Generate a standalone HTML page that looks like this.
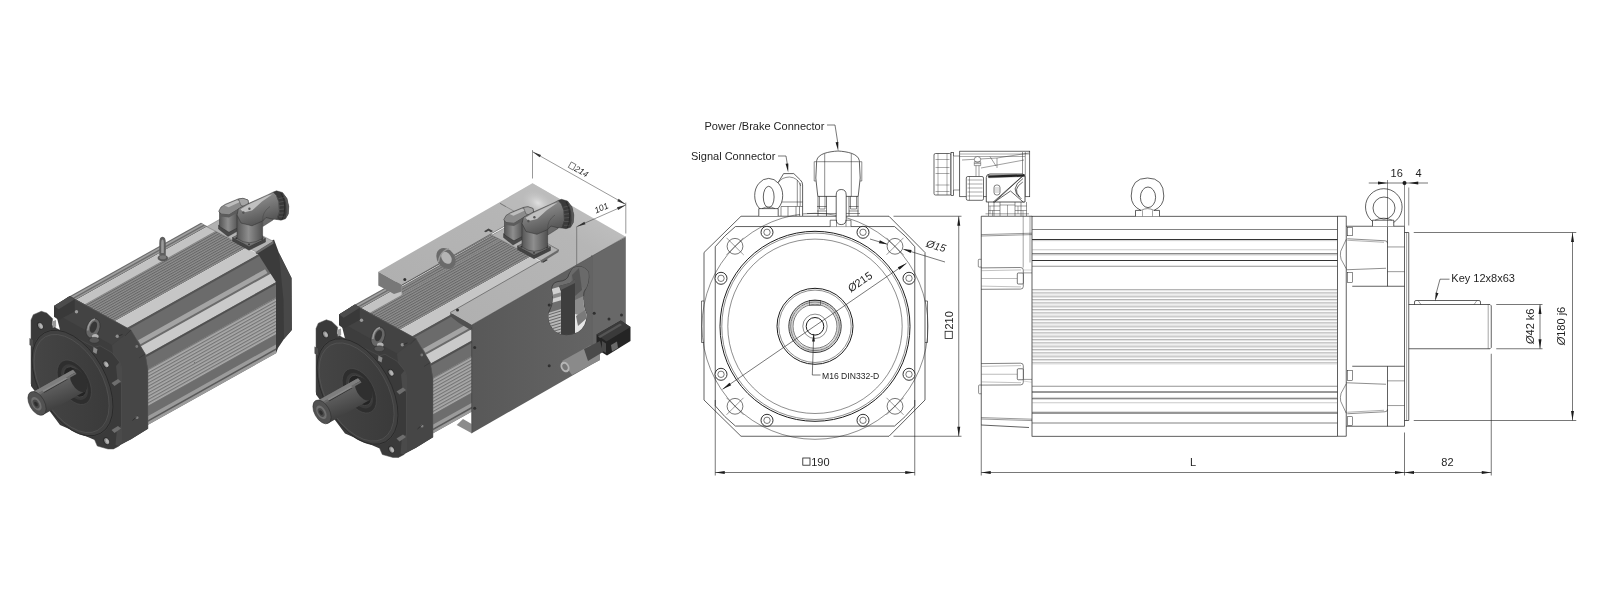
<!DOCTYPE html>
<html><head><meta charset="utf-8"><title>Motor dimensions</title>
<style>
html,body{margin:0;padding:0;background:#fff;}
body{width:1620px;height:600px;overflow:hidden;font-family:"Liberation Sans",sans-serif;}
svg{display:block;position:absolute;left:0;top:0;filter:grayscale(1);}
svg text{font-family:"Liberation Sans",sans-serif;fill:#1f1f1f;}
</style></head><body>
<svg width="1620" height="600" viewBox="0 0 1620 600">
<defs>
<pattern id="ribT" width="12" height="2.3" patternUnits="userSpaceOnUse" patternTransform="rotate(-29.25)"><rect width="12" height="2.3" fill="#8e8e8e"/><rect width="12" height="1.0" fill="#666"/></pattern>
<pattern id="ribS" width="12" height="2.9" patternUnits="userSpaceOnUse" patternTransform="rotate(-29.25)"><rect width="12" height="2.9" fill="#a9a9a9"/><rect width="12" height="1.15" fill="#747474"/></pattern>
<linearGradient id="shaftG" x1="0" y1="0" x2="0.45" y2="1"><stop offset="0" stop-color="#7c7c7c"/><stop offset="0.4" stop-color="#626262"/><stop offset="1" stop-color="#383838"/></linearGradient>
<linearGradient id="cylG" x1="0" y1="0" x2="1" y2="0"><stop offset="0" stop-color="#565656"/><stop offset="0.45" stop-color="#8e8e8e"/><stop offset="1" stop-color="#505050"/></linearGradient>
<linearGradient id="elbG" x1="0" y1="0" x2="0.4" y2="1"><stop offset="0" stop-color="#a0a0a0"/><stop offset="0.5" stop-color="#7c7c7c"/><stop offset="1" stop-color="#545454"/></linearGradient>
<linearGradient id="diskG" x1="0" y1="0" x2="1" y2="1"><stop offset="0" stop-color="#474747"/><stop offset="1" stop-color="#383838"/></linearGradient>
<linearGradient id="boxS" x1="0" y1="0" x2="1" y2="0"><stop offset="0" stop-color="#585858"/><stop offset="1" stop-color="#646464"/></linearGradient>
<linearGradient id="boxT" x1="0" y1="1" x2="1" y2="0"><stop offset="0" stop-color="#aeaeae"/><stop offset="0.7" stop-color="#b6b6b6"/><stop offset="1" stop-color="#c8c8c8"/></linearGradient>
<radialGradient id="topHL" cx="0.5" cy="0.5" r="0.5"><stop offset="0" stop-color="#e2e2e2" stop-opacity="0.95"/><stop offset="1" stop-color="#c4c4c4" stop-opacity="0"/></radialGradient>
</defs>
<g id="frontview">
<polygon points="741.00,216.25 889.00,216.25 925.00,252.50 925.00,400.00 889.00,436.25 741.00,436.25 704.00,400.00 704.00,252.50" fill="none" stroke="#1c1c1c" stroke-width="0.7" />
<path d="M704,301 H701.5 V342.5 H704" fill="none" stroke="#1c1c1c" stroke-width="0.6" />
<path d="M925,301 H927.5 V342.5 H925" fill="none" stroke="#1c1c1c" stroke-width="0.6" />
<path d="M715.25,246.73 L715.25,405.87 A127.6,127.6 0 0 0 735.43,426.05 L894.57,426.05 A127.6,127.6 0 0 0 914.75,405.87 L914.75,246.73 A127.6,127.6 0 0 0 894.57,226.55 L735.43,226.55 A127.6,127.6 0 0 0 715.25,246.73 Z" fill="none" stroke="#1c1c1c" stroke-width="0.7" />
<circle cx="815.00" cy="326.30" r="113.00" fill="none" stroke="#1c1c1c" stroke-width="0.5"/>
<circle cx="815.00" cy="326.30" r="95.00" fill="none" stroke="#1c1c1c" stroke-width="1.0"/>
<circle cx="815.00" cy="326.30" r="93.20" fill="none" stroke="#1c1c1c" stroke-width="0.5"/>
<circle cx="815.00" cy="326.30" r="87.20" fill="none" stroke="#1c1c1c" stroke-width="0.5"/>
<circle cx="815.00" cy="326.30" r="38.00" fill="none" stroke="#1c1c1c" stroke-width="1.0"/>
<circle cx="815.00" cy="326.30" r="36.20" fill="none" stroke="#1c1c1c" stroke-width="0.5"/>
<circle cx="815.00" cy="326.30" r="26.20" fill="none" stroke="#1c1c1c" stroke-width="0.9"/>
<circle cx="815.00" cy="326.30" r="24.30" fill="none" stroke="#1c1c1c" stroke-width="0.6"/>
<circle cx="815.00" cy="326.30" r="22.00" fill="none" stroke="#1c1c1c" stroke-width="0.6"/>
<circle cx="815.00" cy="326.30" r="12.20" fill="none" stroke="#1c1c1c" stroke-width="0.5"/>
<circle cx="815.00" cy="326.30" r="8.80" fill="none" stroke="#1c1c1c" stroke-width="1.0"/>
<circle cx="815.00" cy="326.30" r="23.20" fill="none" stroke="#666" stroke-width="0.35"/>
<circle cx="815.00" cy="326.30" r="25.20" fill="none" stroke="#666" stroke-width="0.35"/>
<rect x="809.40" y="300.30" width="11.20" height="5.20" rx="0" fill="none" stroke="#1c1c1c" stroke-width="0.5"/>
<circle cx="735.00" cy="246.30" r="7.90" fill="none" stroke="#1c1c1c" stroke-width="0.6"/>
<line x1="726.50" y1="237.80" x2="743.50" y2="254.80" stroke="#1c1c1c" stroke-width="0.45" />
<line x1="726.50" y1="254.80" x2="743.50" y2="237.80" stroke="#1c1c1c" stroke-width="0.45" />
<circle cx="735.00" cy="406.30" r="7.90" fill="none" stroke="#1c1c1c" stroke-width="0.6"/>
<line x1="726.50" y1="397.80" x2="743.50" y2="414.80" stroke="#1c1c1c" stroke-width="0.45" />
<line x1="726.50" y1="414.80" x2="743.50" y2="397.80" stroke="#1c1c1c" stroke-width="0.45" />
<circle cx="895.00" cy="246.30" r="7.90" fill="none" stroke="#1c1c1c" stroke-width="0.6"/>
<line x1="886.50" y1="237.80" x2="903.50" y2="254.80" stroke="#1c1c1c" stroke-width="0.45" />
<line x1="886.50" y1="254.80" x2="903.50" y2="237.80" stroke="#1c1c1c" stroke-width="0.45" />
<circle cx="895.00" cy="406.30" r="7.90" fill="none" stroke="#1c1c1c" stroke-width="0.6"/>
<line x1="886.50" y1="397.80" x2="903.50" y2="414.80" stroke="#1c1c1c" stroke-width="0.45" />
<line x1="886.50" y1="414.80" x2="903.50" y2="397.80" stroke="#1c1c1c" stroke-width="0.45" />
<circle cx="721.00" cy="278.30" r="6.00" fill="#fff" stroke="#1c1c1c" stroke-width="0.9"/>
<circle cx="721.00" cy="278.30" r="3.20" fill="none" stroke="#1c1c1c" stroke-width="0.6"/>
<circle cx="721.00" cy="374.30" r="6.00" fill="#fff" stroke="#1c1c1c" stroke-width="0.9"/>
<circle cx="721.00" cy="374.30" r="3.20" fill="none" stroke="#1c1c1c" stroke-width="0.6"/>
<circle cx="909.00" cy="278.30" r="6.00" fill="#fff" stroke="#1c1c1c" stroke-width="0.9"/>
<circle cx="909.00" cy="278.30" r="3.20" fill="none" stroke="#1c1c1c" stroke-width="0.6"/>
<circle cx="909.00" cy="374.30" r="6.00" fill="#fff" stroke="#1c1c1c" stroke-width="0.9"/>
<circle cx="909.00" cy="374.30" r="3.20" fill="none" stroke="#1c1c1c" stroke-width="0.6"/>
<circle cx="767.00" cy="232.30" r="6.00" fill="#fff" stroke="#1c1c1c" stroke-width="0.9"/>
<circle cx="767.00" cy="232.30" r="3.20" fill="none" stroke="#1c1c1c" stroke-width="0.6"/>
<circle cx="767.00" cy="420.30" r="6.00" fill="#fff" stroke="#1c1c1c" stroke-width="0.9"/>
<circle cx="767.00" cy="420.30" r="3.20" fill="none" stroke="#1c1c1c" stroke-width="0.6"/>
<circle cx="863.00" cy="232.30" r="6.00" fill="#fff" stroke="#1c1c1c" stroke-width="0.9"/>
<circle cx="863.00" cy="232.30" r="3.20" fill="none" stroke="#1c1c1c" stroke-width="0.6"/>
<circle cx="863.00" cy="420.30" r="6.00" fill="#fff" stroke="#1c1c1c" stroke-width="0.9"/>
<circle cx="863.00" cy="420.30" r="3.20" fill="none" stroke="#1c1c1c" stroke-width="0.6"/>
<line x1="722.50" y1="389.30" x2="906.50" y2="263.20" stroke="#1c1c1c" stroke-width="0.6" />
<polygon points="906.50,263.20 899.51,269.81 897.82,267.33" fill="#1c1c1c" stroke="none" stroke-width="0" />
<polygon points="722.50,389.30 729.49,382.69 731.18,385.17" fill="#1c1c1c" stroke="none" stroke-width="0" />
<text x="851.00" y="292.50" font-size="11" text-anchor="start" transform="rotate(-34.42385795523176 851.00 292.50)" ><tspan font-style="italic">Ø</tspan>215</text>
<line x1="870.00" y1="239.00" x2="887.00" y2="244.20" stroke="#1c1c1c" stroke-width="0.6" />
<line x1="903.50" y1="249.30" x2="945.00" y2="262.00" stroke="#1c1c1c" stroke-width="0.6" />
<polygon points="887.50,244.30 878.90,243.34 879.84,240.28" fill="#1c1c1c" stroke="none" stroke-width="0" />
<polygon points="903.00,249.10 911.60,250.06 910.66,253.12" fill="#1c1c1c" stroke="none" stroke-width="0" />
<text x="925.50" y="246.50" font-size="10.5" text-anchor="start" transform="rotate(17.049030972109822 925.50 246.50)" font-style="italic">Ø15</text>
<path d="M820.5,375 H812.3 L813.7,334" fill="none" stroke="#1c1c1c" stroke-width="0.6" />
<polygon points="813.75,333.50 814.87,341.54 812.07,341.45" fill="#1c1c1c" stroke="none" stroke-width="0" />
<text x="822.00" y="378.80" font-size="8.6" text-anchor="start" >M16 DIN332-D</text>
<line x1="893.50" y1="216.25" x2="961.50" y2="216.25" stroke="#1c1c1c" stroke-width="0.6" />
<line x1="893.50" y1="436.25" x2="961.50" y2="436.25" stroke="#1c1c1c" stroke-width="0.6" />
<line x1="958.75" y1="216.25" x2="958.75" y2="436.25" stroke="#1c1c1c" stroke-width="0.6" />
<polygon points="958.75,216.25 960.25,225.75 957.25,225.75" fill="#1c1c1c" stroke="none" stroke-width="0" />
<polygon points="958.75,436.25 957.25,426.75 960.25,426.75" fill="#1c1c1c" stroke="none" stroke-width="0" />
<rect x="945.10" y="331.30" width="7.20" height="7.20" rx="0" fill="none" stroke="#1c1c1c" stroke-width="0.8"/>
<text x="952.60" y="329.60" font-size="11" text-anchor="start" transform="rotate(-90 952.60 329.60)" >210</text>
<line x1="715.25" y1="400.00" x2="715.25" y2="475.50" stroke="#1c1c1c" stroke-width="0.6" />
<line x1="914.75" y1="400.00" x2="914.75" y2="475.50" stroke="#1c1c1c" stroke-width="0.6" />
<line x1="715.25" y1="472.50" x2="914.75" y2="472.50" stroke="#1c1c1c" stroke-width="0.6" />
<polygon points="715.25,472.50 724.75,471.00 724.75,474.00" fill="#1c1c1c" stroke="none" stroke-width="0" />
<polygon points="914.75,472.50 905.25,474.00 905.25,471.00" fill="#1c1c1c" stroke="none" stroke-width="0" />
<rect x="802.80" y="458.00" width="7.20" height="7.20" rx="0" fill="none" stroke="#1c1c1c" stroke-width="0.8"/>
<text x="811.20" y="465.60" font-size="11" text-anchor="start" >190</text>
<text x="704.50" y="129.60" font-size="11" text-anchor="start" >Power /Brake Connector</text>
<path d="M827,125 H835 L837.8,143" fill="none" stroke="#1c1c1c" stroke-width="0.6" />
<polygon points="838.20,151.00 835.56,142.28 838.33,141.89" fill="#1c1c1c" stroke="none" stroke-width="0" />
<text x="691.00" y="159.60" font-size="11" text-anchor="start" >Signal Connector</text>
<path d="M778,156 H786 L787.6,166" fill="none" stroke="#1c1c1c" stroke-width="0.6" />
<polygon points="788.20,172.50 785.56,163.78 788.33,163.39" fill="#1c1c1c" stroke="none" stroke-width="0" />
<path d="M817.8,196.4 L815.8,178 L816.7,160.5 C818,153.5 829,151.6 838,151 C847,151.6 858,153.5 859.3,160.5 L860.2,178 L858.2,196.4 Z" fill="#fff" stroke="#1c1c1c" stroke-width="0.7" />
<line x1="817.20" y1="161.70" x2="858.80" y2="161.70" stroke="#1c1c1c" stroke-width="0.5" />
<line x1="824.70" y1="153.50" x2="824.70" y2="196.40" stroke="#1c1c1c" stroke-width="0.5" />
<line x1="851.30" y1="153.50" x2="851.30" y2="196.40" stroke="#1c1c1c" stroke-width="0.5" />
<path d="M816.6,161.7 H814.2 V181 H815.9" fill="none" stroke="#1c1c1c" stroke-width="0.5" />
<path d="M859.4,161.7 H861.8 V181 H860.1" fill="none" stroke="#1c1c1c" stroke-width="0.5" />
<path d="M818,196.4 V216 M826.5,196.4 V216 M849,196.4 V216 M858,196.4 V216" fill="none" stroke="#1c1c1c" stroke-width="0.6" />
<path d="M819.5,196.4 V209 H825 V196.4 M850.5,196.4 V209 H856.5 V196.4" fill="none" stroke="#1c1c1c" stroke-width="0.5" />
<path d="M817,206.5 H826.5 M849,206.5 H858.5 M817,211 H826.5 M849,211 H858.5" fill="none" stroke="#1c1c1c" stroke-width="0.5" />
<line x1="807.00" y1="213.50" x2="860.00" y2="213.50" stroke="#1c1c1c" stroke-width="0.5" />
<path d="M830.2,226.5 V220.2 H851 V226.5" fill="#fff" stroke="#1c1c1c" stroke-width="0.6" />
<path d="M836.2,219 V195 Q836.2,189.5 841.2,189.5 Q846.2,189.5 846.2,195 V219 Q846.2,224.6 841.2,224.6 Q836.2,224.6 836.2,219 Z" fill="#fff" stroke="#1c1c1c" stroke-width="0.7" />
<path d="M836.5,220.2 V226.5 M846,220.2 V226.5" fill="none" stroke="#1c1c1c" stroke-width="0.5" />
<path d="M777.6,202 V183.5 L783.6,173.6 H793.8 L800.4,180 Q802.6,182 802.6,185 V216" fill="#fff" stroke="#1c1c1c" stroke-width="0.7" />
<path d="M778.6,182 Q782,177.3 789.5,177 Q798,177.5 800.8,186" fill="none" stroke="#1c1c1c" stroke-width="0.5" />
<line x1="797.30" y1="180.00" x2="797.30" y2="206.00" stroke="#1c1c1c" stroke-width="0.5" />
<line x1="800.20" y1="183.00" x2="800.20" y2="206.00" stroke="#1c1c1c" stroke-width="0.5" />
<path d="M778,202 H802.6 M781,206.5 H802.6 M781,206.5 V216 M788,206.5 V216 M796,206.5 V216 M799.5,206.5 V216" fill="none" stroke="#1c1c1c" stroke-width="0.5" />
<ellipse cx="768.70" cy="195.60" rx="14.00" ry="17.20" fill="#fff" stroke="#1c1c1c" stroke-width="0.7"/>
<ellipse cx="768.70" cy="197.00" rx="5.40" ry="10.70" fill="none" stroke="#1c1c1c" stroke-width="0.7"/>
<path d="M758.8,216 V208.6 H778.2 V216" fill="#fff" stroke="#1c1c1c" stroke-width="0.7" />
<path d="M762,208.6 Q768.5,205 775,208.6" fill="none" stroke="#1c1c1c" stroke-width="0.5" />
</g>
<g id="sideview">
<rect x="1032.00" y="216.25" width="305.50" height="220.00" rx="0" fill="none" stroke="#1c1c1c" stroke-width="0.7"/>
<line x1="1346.25" y1="216.25" x2="1346.25" y2="436.25" stroke="#1c1c1c" stroke-width="0.7" />
<line x1="1337.50" y1="216.25" x2="1346.25" y2="216.25" stroke="#1c1c1c" stroke-width="0.7" />
<line x1="1337.50" y1="436.25" x2="1346.25" y2="436.25" stroke="#1c1c1c" stroke-width="0.7" />
<line x1="1032.00" y1="229.50" x2="1337.50" y2="229.50" stroke="#4a4a4a" stroke-width="0.7" />
<line x1="1032.00" y1="423.00" x2="1337.50" y2="423.00" stroke="#4a4a4a" stroke-width="0.7" />
<line x1="1032.00" y1="239.50" x2="1337.50" y2="239.50" stroke="#333" stroke-width="1.0" />
<line x1="1032.00" y1="413.00" x2="1337.50" y2="413.00" stroke="#333" stroke-width="1.0" />
<line x1="1032.00" y1="240.65" x2="1337.50" y2="240.65" stroke="#777" stroke-width="0.35" />
<line x1="1032.00" y1="411.85" x2="1337.50" y2="411.85" stroke="#777" stroke-width="0.35" />
<line x1="1032.00" y1="249.75" x2="1337.50" y2="249.75" stroke="#777" stroke-width="0.4" />
<line x1="1032.00" y1="402.75" x2="1337.50" y2="402.75" stroke="#777" stroke-width="0.4" />
<line x1="1032.00" y1="253.75" x2="1337.50" y2="253.75" stroke="#3a3a3a" stroke-width="0.8" />
<line x1="1032.00" y1="398.75" x2="1337.50" y2="398.75" stroke="#3a3a3a" stroke-width="0.8" />
<line x1="1032.00" y1="255.05" x2="1337.50" y2="255.05" stroke="#888" stroke-width="0.35" />
<line x1="1032.00" y1="397.45" x2="1337.50" y2="397.45" stroke="#888" stroke-width="0.35" />
<line x1="1032.00" y1="260.50" x2="1337.50" y2="260.50" stroke="#333" stroke-width="1.0" />
<line x1="1032.00" y1="392.00" x2="1337.50" y2="392.00" stroke="#333" stroke-width="1.0" />
<line x1="1032.00" y1="266.25" x2="1337.50" y2="266.25" stroke="#4a4a4a" stroke-width="0.6" />
<line x1="1032.00" y1="386.25" x2="1337.50" y2="386.25" stroke="#4a4a4a" stroke-width="0.6" />
<line x1="1032.00" y1="289.50" x2="1337.50" y2="289.50" stroke="#5a5a5a" stroke-width="0.45" />
<line x1="1032.00" y1="290.70" x2="1337.50" y2="290.70" stroke="#8a8a8a" stroke-width="0.3" />
<line x1="1032.00" y1="292.83" x2="1337.50" y2="292.83" stroke="#5a5a5a" stroke-width="0.45" />
<line x1="1032.00" y1="294.03" x2="1337.50" y2="294.03" stroke="#8a8a8a" stroke-width="0.3" />
<line x1="1032.00" y1="296.16" x2="1337.50" y2="296.16" stroke="#5a5a5a" stroke-width="0.45" />
<line x1="1032.00" y1="297.36" x2="1337.50" y2="297.36" stroke="#8a8a8a" stroke-width="0.3" />
<line x1="1032.00" y1="299.49" x2="1337.50" y2="299.49" stroke="#5a5a5a" stroke-width="0.45" />
<line x1="1032.00" y1="300.69" x2="1337.50" y2="300.69" stroke="#8a8a8a" stroke-width="0.3" />
<line x1="1032.00" y1="302.82" x2="1337.50" y2="302.82" stroke="#5a5a5a" stroke-width="0.45" />
<line x1="1032.00" y1="304.02" x2="1337.50" y2="304.02" stroke="#8a8a8a" stroke-width="0.3" />
<line x1="1032.00" y1="306.15" x2="1337.50" y2="306.15" stroke="#5a5a5a" stroke-width="0.45" />
<line x1="1032.00" y1="307.35" x2="1337.50" y2="307.35" stroke="#8a8a8a" stroke-width="0.3" />
<line x1="1032.00" y1="309.48" x2="1337.50" y2="309.48" stroke="#5a5a5a" stroke-width="0.45" />
<line x1="1032.00" y1="310.68" x2="1337.50" y2="310.68" stroke="#8a8a8a" stroke-width="0.3" />
<line x1="1032.00" y1="312.81" x2="1337.50" y2="312.81" stroke="#5a5a5a" stroke-width="0.45" />
<line x1="1032.00" y1="314.01" x2="1337.50" y2="314.01" stroke="#8a8a8a" stroke-width="0.3" />
<line x1="1032.00" y1="316.14" x2="1337.50" y2="316.14" stroke="#5a5a5a" stroke-width="0.45" />
<line x1="1032.00" y1="317.34" x2="1337.50" y2="317.34" stroke="#8a8a8a" stroke-width="0.3" />
<line x1="1032.00" y1="319.47" x2="1337.50" y2="319.47" stroke="#5a5a5a" stroke-width="0.45" />
<line x1="1032.00" y1="320.67" x2="1337.50" y2="320.67" stroke="#8a8a8a" stroke-width="0.3" />
<line x1="1032.00" y1="322.80" x2="1337.50" y2="322.80" stroke="#5a5a5a" stroke-width="0.45" />
<line x1="1032.00" y1="324.00" x2="1337.50" y2="324.00" stroke="#8a8a8a" stroke-width="0.3" />
<line x1="1032.00" y1="326.13" x2="1337.50" y2="326.13" stroke="#5a5a5a" stroke-width="0.45" />
<line x1="1032.00" y1="327.33" x2="1337.50" y2="327.33" stroke="#8a8a8a" stroke-width="0.3" />
<line x1="1032.00" y1="329.46" x2="1337.50" y2="329.46" stroke="#5a5a5a" stroke-width="0.45" />
<line x1="1032.00" y1="330.66" x2="1337.50" y2="330.66" stroke="#8a8a8a" stroke-width="0.3" />
<line x1="1032.00" y1="332.79" x2="1337.50" y2="332.79" stroke="#5a5a5a" stroke-width="0.45" />
<line x1="1032.00" y1="333.99" x2="1337.50" y2="333.99" stroke="#8a8a8a" stroke-width="0.3" />
<line x1="1032.00" y1="336.12" x2="1337.50" y2="336.12" stroke="#5a5a5a" stroke-width="0.45" />
<line x1="1032.00" y1="337.32" x2="1337.50" y2="337.32" stroke="#8a8a8a" stroke-width="0.3" />
<line x1="1032.00" y1="339.45" x2="1337.50" y2="339.45" stroke="#5a5a5a" stroke-width="0.45" />
<line x1="1032.00" y1="340.65" x2="1337.50" y2="340.65" stroke="#8a8a8a" stroke-width="0.3" />
<line x1="1032.00" y1="342.78" x2="1337.50" y2="342.78" stroke="#5a5a5a" stroke-width="0.45" />
<line x1="1032.00" y1="343.98" x2="1337.50" y2="343.98" stroke="#8a8a8a" stroke-width="0.3" />
<line x1="1032.00" y1="346.11" x2="1337.50" y2="346.11" stroke="#5a5a5a" stroke-width="0.45" />
<line x1="1032.00" y1="347.31" x2="1337.50" y2="347.31" stroke="#8a8a8a" stroke-width="0.3" />
<line x1="1032.00" y1="349.44" x2="1337.50" y2="349.44" stroke="#5a5a5a" stroke-width="0.45" />
<line x1="1032.00" y1="350.64" x2="1337.50" y2="350.64" stroke="#8a8a8a" stroke-width="0.3" />
<line x1="1032.00" y1="352.77" x2="1337.50" y2="352.77" stroke="#5a5a5a" stroke-width="0.45" />
<line x1="1032.00" y1="353.97" x2="1337.50" y2="353.97" stroke="#8a8a8a" stroke-width="0.3" />
<line x1="1032.00" y1="356.10" x2="1337.50" y2="356.10" stroke="#5a5a5a" stroke-width="0.45" />
<line x1="1032.00" y1="357.30" x2="1337.50" y2="357.30" stroke="#8a8a8a" stroke-width="0.3" />
<line x1="1032.00" y1="359.43" x2="1337.50" y2="359.43" stroke="#5a5a5a" stroke-width="0.45" />
<line x1="1032.00" y1="360.63" x2="1337.50" y2="360.63" stroke="#8a8a8a" stroke-width="0.3" />
<line x1="1032.00" y1="362.76" x2="1337.50" y2="362.76" stroke="#5a5a5a" stroke-width="0.45" />
<line x1="1032.00" y1="363.96" x2="1337.50" y2="363.96" stroke="#8a8a8a" stroke-width="0.3" />
<path d="M1032,216.25 H981.25 V425 L1029,427.5" fill="none" stroke="#1c1c1c" stroke-width="0.7" />
<path d="M981.25,234.6 L1032,233.2 M981.25,236 L1032,234.6" fill="none" stroke="#1c1c1c" stroke-width="0.45" />
<path d="M981.25,417.6 L1032,419.2 M981.25,419 L1032,420.6" fill="none" stroke="#1c1c1c" stroke-width="0.45" />
<path d="M981.25,259.3 H979.2 Q978.3,259.3 978.3,260.2 V266.2 Q978.3,267.1 979.2,267.1 H981.25" fill="none" stroke="#1c1c1c" stroke-width="0.5" />
<path d="M981.25,385 H979.4 Q978.6,385 978.6,385.9 V392.8 Q978.6,393.75 979.4,393.75 H981.25" fill="none" stroke="#1c1c1c" stroke-width="0.5" />
<path d="M981.25,267.9 L1020.5,267.5 Q1023.3,267.5 1023.3,270.0 V286.5 Q1023.3,289.1 1020.5,289.1 L981.25,289.3" fill="none" stroke="#1c1c1c" stroke-width="0.55" />
<path d="M981.25,270.7 L1021,269.9 M981.25,286.1 L1021,286.9" fill="none" stroke="#666" stroke-width="0.4" />
<line x1="981.25" y1="278.50" x2="1017.30" y2="278.50" stroke="#555" stroke-width="0.4" />
<rect x="1017.30" y="273.00" width="6.00" height="11.00" rx="1" fill="#fff" stroke="#1c1c1c" stroke-width="0.6"/>
<path d="M981.25,363.59999999999997 L1020.5,363.2 Q1023.3,363.2 1023.3,365.7 V382.3 Q1023.3,384.90000000000003 1020.5,384.90000000000003 L981.25,385.1" fill="none" stroke="#1c1c1c" stroke-width="0.55" />
<path d="M981.25,366.4 L1021,365.59999999999997 M981.25,381.90000000000003 L1021,382.7" fill="none" stroke="#666" stroke-width="0.4" />
<line x1="981.25" y1="374.25" x2="1017.30" y2="374.25" stroke="#555" stroke-width="0.4" />
<rect x="1017.30" y="368.75" width="6.00" height="11.00" rx="1" fill="#fff" stroke="#1c1c1c" stroke-width="0.6"/>
<line x1="1023.30" y1="270.00" x2="1032.00" y2="270.00" stroke="#888" stroke-width="0.35" />
<line x1="1023.30" y1="272.90" x2="1032.00" y2="272.90" stroke="#1c1c1c" stroke-width="0.45" />
<line x1="1023.30" y1="379.40" x2="1032.00" y2="379.40" stroke="#1c1c1c" stroke-width="0.45" />
<line x1="1023.30" y1="381.00" x2="1032.00" y2="382.30" stroke="#888" stroke-width="0.35" />
<line x1="1023.20" y1="216.25" x2="1023.20" y2="267.50" stroke="#1c1c1c" stroke-width="0.4" />
<line x1="1030.00" y1="216.25" x2="1030.00" y2="262.50" stroke="#1c1c1c" stroke-width="0.4" />
<path d="M1135.5,216.25 V210.4 H1141 Q1131.2,206 1131.2,196 Q1131.2,178 1147.5,178 Q1163.8,178 1163.8,196 Q1163.8,206 1154,210.4 H1159.5 V216.25" fill="#fff" stroke="#1c1c1c" stroke-width="0.7" />
<ellipse cx="1148.00" cy="197.30" rx="7.60" ry="10.30" fill="none" stroke="#1c1c1c" stroke-width="0.7"/>
<path d="M1141,210.4 Q1147.5,206.8 1154,210.4" fill="none" stroke="#1c1c1c" stroke-width="0.5" />
<line x1="1142.50" y1="210.40" x2="1142.50" y2="216.25" stroke="#1c1c1c" stroke-width="0.4" />
<line x1="1152.50" y1="210.40" x2="1152.50" y2="216.25" stroke="#1c1c1c" stroke-width="0.4" />
<path d="M1346.25,226.25 H1404.5 M1387.5,226.25 V286.25 M1352.25,286.25 H1404.5" fill="none" stroke="#1c1c1c" stroke-width="0.7" />
<path d="M1387.5,246.95 H1404.5 M1387.5,271.65 H1404.5" fill="none" stroke="#1c1c1c" stroke-width="0.45" />
<path d="M1347.25,238.75 L1385,240.75 Q1387.5,240.75 1387.5,243.25 M1346.25,269.75 L1386,268.25 " fill="none" stroke="#1c1c1c" stroke-width="0.5" />
<path d="M1347.25,240.25 L1384,242.25" fill="none" stroke="#1c1c1c" stroke-width="0.35" />
<rect x="1347.25" y="227.25" width="5.20" height="8.50" rx="0" fill="#fff" stroke="#1c1c1c" stroke-width="0.5"/>
<rect x="1347.25" y="272.25" width="5.20" height="10.00" rx="0" fill="#fff" stroke="#1c1c1c" stroke-width="0.5"/>
<path d="M1346.25,239.25 L1340.7,251.25 Q1339.9,255.25 1341.1,259.25 L1346.25,268.75" fill="none" stroke="#1c1c1c" stroke-width="0.5" />
<path d="M1346.25,426.25 H1404.5 M1387.5,426.25 V366.25 M1352.25,366.25 H1404.5" fill="none" stroke="#1c1c1c" stroke-width="0.7" />
<path d="M1387.5,405.55 H1404.5 M1387.5,380.85 H1404.5" fill="none" stroke="#1c1c1c" stroke-width="0.45" />
<path d="M1347.25,413.75 L1385,411.75 Q1387.5,411.75 1387.5,409.25 M1346.25,382.75 L1386,384.25 " fill="none" stroke="#1c1c1c" stroke-width="0.5" />
<path d="M1347.25,412.25 L1384,410.25" fill="none" stroke="#1c1c1c" stroke-width="0.35" />
<rect x="1347.25" y="416.75" width="5.20" height="8.50" rx="0" fill="#fff" stroke="#1c1c1c" stroke-width="0.5"/>
<rect x="1347.25" y="370.25" width="5.20" height="10.00" rx="0" fill="#fff" stroke="#1c1c1c" stroke-width="0.5"/>
<path d="M1346.25,413.25 L1340.7,401.25 Q1339.9,397.25 1341.1,393.25 L1346.25,383.75" fill="none" stroke="#1c1c1c" stroke-width="0.5" />
<line x1="1404.50" y1="226.25" x2="1404.50" y2="426.25" stroke="#1c1c1c" stroke-width="0.7" />
<path d="M1404.5,232.5 H1408.75 V420.5 H1404.5" fill="none" stroke="#1c1c1c" stroke-width="0.7" />
<line x1="1406.60" y1="232.50" x2="1406.60" y2="420.50" stroke="#1c1c1c" stroke-width="0.4" />
<path d="M1408.75,304.5 H1490 L1491.25,305.8 V347.5 L1490,348.75 H1408.75" fill="none" stroke="#1c1c1c" stroke-width="0.7" />
<line x1="1488.20" y1="304.50" x2="1488.20" y2="348.75" stroke="#1c1c1c" stroke-width="0.4" />
<path d="M1414.5,304.5 V302 Q1414.5,300.5 1416,300.5 H1479 Q1480.5,300.5 1480.5,302 V304.5" fill="none" stroke="#1c1c1c" stroke-width="0.7" />
<path d="M1418,300.5 L1421,304.5 M1477,300.5 L1474,304.5" fill="none" stroke="#1c1c1c" stroke-width="0.4" />
<text x="1451.30" y="282.00" font-size="11" text-anchor="start" >Key 12x8x63</text>
<path d="M1449.5,279.2 H1440 L1436,294" fill="none" stroke="#1c1c1c" stroke-width="0.6" />
<polygon points="1435.00,301.20 1435.77,292.62 1438.48,293.32" fill="#1c1c1c" stroke="none" stroke-width="0" />
<circle cx="1383.80" cy="207.00" r="18.30" fill="#fff" stroke="#1c1c1c" stroke-width="0.7"/>
<circle cx="1384.00" cy="208.00" r="11.00" fill="none" stroke="#1c1c1c" stroke-width="0.7"/>
<path d="M1372.5,226.25 V220.2 H1393.75 V226.25" fill="#fff" stroke="#1c1c1c" stroke-width="0.7" />
<path d="M1375,220.2 Q1383.5,216 1392,220.2" fill="none" stroke="#1c1c1c" stroke-width="0.5" />
<line x1="1368.75" y1="183.00" x2="1428.00" y2="183.00" stroke="#1c1c1c" stroke-width="0.6" />
<polygon points="1387.50,183.00 1378.00,184.50 1378.00,181.50" fill="#1c1c1c" stroke="none" stroke-width="0" />
<polygon points="1408.75,183.00 1418.25,181.50 1418.25,184.50" fill="#1c1c1c" stroke="none" stroke-width="0" />
<circle cx="1404.50" cy="183.00" r="1.90" fill="#1c1c1c" stroke="#1c1c1c" stroke-width="0.2"/>
<line x1="1387.50" y1="180.00" x2="1387.50" y2="226.00" stroke="#1c1c1c" stroke-width="0.5" />
<line x1="1404.50" y1="183.00" x2="1404.50" y2="226.00" stroke="#1c1c1c" stroke-width="0.5" />
<line x1="1408.75" y1="187.50" x2="1408.75" y2="225.50" stroke="#1c1c1c" stroke-width="0.5" />
<text x="1390.60" y="177.00" font-size="11" text-anchor="start" >16</text>
<text x="1415.50" y="177.00" font-size="11" text-anchor="start" >4</text>
<line x1="1413.75" y1="232.50" x2="1576.25" y2="232.50" stroke="#1c1c1c" stroke-width="0.6" />
<line x1="1413.75" y1="420.50" x2="1576.25" y2="420.50" stroke="#1c1c1c" stroke-width="0.6" />
<line x1="1572.50" y1="232.50" x2="1572.50" y2="420.50" stroke="#1c1c1c" stroke-width="0.6" />
<polygon points="1572.50,232.50 1574.00,242.00 1571.00,242.00" fill="#1c1c1c" stroke="none" stroke-width="0" />
<polygon points="1572.50,420.50 1571.00,411.00 1574.00,411.00" fill="#1c1c1c" stroke="none" stroke-width="0" />
<text x="1565.20" y="345.30" font-size="11" text-anchor="start" transform="rotate(-90 1565.20 345.30)" ><tspan font-style="italic">Ø</tspan>180 j6</text>
<line x1="1496.25" y1="304.50" x2="1542.50" y2="304.50" stroke="#1c1c1c" stroke-width="0.6" />
<line x1="1496.25" y1="348.75" x2="1542.50" y2="348.75" stroke="#1c1c1c" stroke-width="0.6" />
<line x1="1540.00" y1="304.50" x2="1540.00" y2="348.75" stroke="#1c1c1c" stroke-width="0.6" />
<polygon points="1540.00,304.50 1541.50,314.00 1538.50,314.00" fill="#1c1c1c" stroke="none" stroke-width="0" />
<polygon points="1540.00,348.75 1538.50,339.25 1541.50,339.25" fill="#1c1c1c" stroke="none" stroke-width="0" />
<text x="1533.60" y="344.00" font-size="11" text-anchor="start" transform="rotate(-90 1533.60 344.00)" ><tspan font-style="italic">Ø</tspan>42 k6</text>
<line x1="981.25" y1="425.00" x2="981.25" y2="475.50" stroke="#1c1c1c" stroke-width="0.6" />
<line x1="1404.50" y1="432.50" x2="1404.50" y2="475.50" stroke="#1c1c1c" stroke-width="0.6" />
<line x1="1491.25" y1="353.75" x2="1491.25" y2="475.50" stroke="#1c1c1c" stroke-width="0.6" />
<line x1="981.25" y1="472.50" x2="1491.25" y2="472.50" stroke="#1c1c1c" stroke-width="0.6" />
<polygon points="981.25,472.50 990.75,471.00 990.75,474.00" fill="#1c1c1c" stroke="none" stroke-width="0" />
<polygon points="1404.50,472.50 1395.00,474.00 1395.00,471.00" fill="#1c1c1c" stroke="none" stroke-width="0" />
<polygon points="1404.50,472.50 1414.00,471.00 1414.00,474.00" fill="#1c1c1c" stroke="none" stroke-width="0" />
<polygon points="1491.25,472.50 1481.75,474.00 1481.75,471.00" fill="#1c1c1c" stroke="none" stroke-width="0" />
<text x="1190.00" y="465.60" font-size="11" text-anchor="start" >L</text>
<text x="1441.30" y="465.60" font-size="11" text-anchor="start" >82</text>
<rect x="934.00" y="153.50" width="17.00" height="41.50" rx="1.5" fill="#fff" stroke="#2a2a2a" stroke-width="0.7"/>
<line x1="935.50" y1="159.50" x2="949.50" y2="159.50" stroke="#2a2a2a" stroke-width="0.4" />
<line x1="935.50" y1="167.50" x2="949.50" y2="167.50" stroke="#2a2a2a" stroke-width="0.4" />
<line x1="935.50" y1="173.50" x2="949.50" y2="173.50" stroke="#2a2a2a" stroke-width="0.4" />
<line x1="935.50" y1="185.00" x2="949.50" y2="185.00" stroke="#2a2a2a" stroke-width="0.4" />
<line x1="935.50" y1="191.50" x2="949.50" y2="191.50" stroke="#2a2a2a" stroke-width="0.4" />
<line x1="938.00" y1="153.50" x2="938.00" y2="195.00" stroke="#2a2a2a" stroke-width="0.4" />
<line x1="947.00" y1="153.50" x2="947.00" y2="195.00" stroke="#2a2a2a" stroke-width="0.4" />
<rect x="951.00" y="152.60" width="2.60" height="43.00" rx="0" fill="#fff" stroke="#2a2a2a" stroke-width="0.7"/>
<path d="M953.6,156 H960 V190 H953.6" fill="#fff" stroke="#2a2a2a" stroke-width="0.5" />
<rect x="959.70" y="151.20" width="70.00" height="45.50" rx="0" fill="#fff" stroke="#2a2a2a" stroke-width="0.7"/>
<path d="M960,154 H1029.5 M960,156.5 H1025" fill="none" stroke="#2a2a2a" stroke-width="0.4" />
<path d="M962,160 L997,158 L1029,153 M997,158 V168 M981,168 L1024,160 M990,156.5 L996,166" fill="none" stroke="#2a2a2a" stroke-width="0.45" />
<line x1="1022.50" y1="152.00" x2="1022.50" y2="196.00" stroke="#2a2a2a" stroke-width="0.5" />
<line x1="1025.30" y1="152.00" x2="1025.30" y2="196.00" stroke="#2a2a2a" stroke-width="0.5" />
<ellipse cx="977.50" cy="159.50" rx="3.20" ry="3.00" fill="#fff" stroke="#2a2a2a" stroke-width="0.5"/>
<path d="M974.3,161.8 H980.7 V165.6 H974.3 Z M974.3,163.6 H980.7 M976,165.6 V176.5 M979,165.6 V176.5" fill="none" stroke="#2a2a2a" stroke-width="0.45" />
<rect x="966.30" y="176.50" width="17.20" height="23.80" rx="1.5" fill="#fff" stroke="#2a2a2a" stroke-width="0.7"/>
<line x1="967.50" y1="180.00" x2="982.50" y2="180.00" stroke="#2a2a2a" stroke-width="0.4" />
<line x1="967.50" y1="184.00" x2="982.50" y2="184.00" stroke="#2a2a2a" stroke-width="0.4" />
<line x1="967.50" y1="188.00" x2="982.50" y2="188.00" stroke="#2a2a2a" stroke-width="0.4" />
<line x1="967.50" y1="192.00" x2="982.50" y2="192.00" stroke="#2a2a2a" stroke-width="0.4" />
<line x1="967.50" y1="196.00" x2="982.50" y2="196.00" stroke="#2a2a2a" stroke-width="0.4" />
<line x1="969.50" y1="176.50" x2="969.50" y2="200.30" stroke="#2a2a2a" stroke-width="0.4" />
<path d="M986.3,202 V177.5 Q986.3,174 990,174 H1022 Q1025,174 1025,177 V202 Z" fill="#fff" stroke="#2a2a2a" stroke-width="0.8" />
<path d="M988,175.6 L1024,174.4 L1024.4,176.6 L988.5,177.8 Z" fill="#222" stroke="#2a2a2a" stroke-width="0.3" />
<path d="M1024.5,174.5 L994.5,202 M1022.5,176 L993,202.3 M994.5,202 L1010.5,191 L1023.5,202.3 M1023,178.5 Q1008,189 1021.5,199 M1022.8,182 Q1012,189 1019.5,197" fill="none" stroke="#222" stroke-width="0.7" />
<rect x="994.00" y="185.00" width="6.00" height="10.00" rx="2.6" fill="#fff" stroke="#2a2a2a" stroke-width="0.6"/>
<path d="M994.6,188 H999.4 M994.6,190 H999.4 M994.6,192 H999.4" fill="none" stroke="#2a2a2a" stroke-width="0.3" />
<path d="M988.5,202 V216 M994,202 V216 M1000,202 V216 M1015,202 V216 M1021,202 V216 M1026.5,202 V216" fill="none" stroke="#2a2a2a" stroke-width="0.5" />
<path d="M988.5,206 H1000 M1015,206 H1026.5 M988.5,210.5 H1000 M1015,210.5 H1026.5 M985.5,213.8 H1029 M1000,205 H1015" fill="none" stroke="#2a2a2a" stroke-width="0.45" />
<path d="M990,206 V213.8 M992.5,210.5 V216 M1018,206 V213.8 M1023,210.5 V216 M1007.5,205 V216" fill="none" stroke="#2a2a2a" stroke-width="0.4" />
</g>
<g id="motor1">
<polygon points="255.00,253.00 268.00,243.00 274.00,239.50 279.00,253.00 291.50,278.00 291.80,330.00 284.00,339.00 278.00,348.00 276.00,353.50 274.00,290.00" fill="#3b3b3b" stroke="none" stroke-width="0" />
<polygon points="279.00,253.00 291.50,278.00 291.80,330.00 284.00,339.00 283.50,300.00 281.00,275.00" fill="#484848" stroke="none" stroke-width="0" />
<polygon points="65.55,298.61 72.15,302.24 207.60,226.43 201.00,222.80" fill="#6c6c6c" stroke="none" stroke-width="0" />
<polygon points="66.70,299.24 68.42,300.19 203.87,224.38 202.15,223.43" fill="#a2a2a2" stroke="none" stroke-width="0" />
<polygon points="69.86,300.98 71.29,301.77 206.74,225.96 205.31,225.17" fill="#9a9a9a" stroke="none" stroke-width="0" />
<polygon points="72.15,302.24 80.19,306.67 215.64,230.86 207.60,226.43" fill="#c3c3c3" stroke="none" stroke-width="0" />
<polygon points="80.19,306.67 110.90,323.57 246.35,247.76 215.64,230.86" fill="url(#ribT)" stroke="none" stroke-width="0" />
<polygon points="110.90,323.57 122.95,330.21 258.40,254.40 246.35,247.76" fill="#c6c6c6" stroke="none" stroke-width="0" />
<polygon points="122.95,330.21 140.55,358.11 276.00,282.30 258.40,254.40" fill="#6b6b6b" stroke="none" stroke-width="0" />
<polygon points="122.95,330.21 124.01,331.88 259.46,256.07 258.40,254.40" fill="#555" stroke="none" stroke-width="0" />
<polygon points="138.02,340.27 140.49,344.18 267.55,273.06 265.09,269.15" fill="#a4a4a4" stroke="none" stroke-width="0" />
<polygon points="135.09,349.46 140.55,358.11 276.00,282.30 270.54,273.65" fill="#cacaca" stroke="none" stroke-width="0" />
<polygon points="140.55,358.11 140.55,429.11 276.00,353.30 276.00,282.30" fill="#6d6d6d" stroke="none" stroke-width="0" />
<polygon points="140.55,358.11 140.55,360.24 276.00,284.43 276.00,282.30" fill="#505050" stroke="none" stroke-width="0" />
<polygon points="140.55,373.38 140.55,410.30 276.00,334.49 276.00,297.56" fill="url(#ribS)" stroke="none" stroke-width="0" />
<polygon points="140.55,420.24 140.55,429.11 276.00,353.30 276.00,344.43" fill="#9b9b9b" stroke="none" stroke-width="0" />
<polygon points="140.55,424.14 140.55,425.92 276.00,350.11 276.00,348.33" fill="#5a5a5a" stroke="none" stroke-width="0" />
<polygon points="206.70,226.70 224.50,216.60 273.30,241.30 256.00,252.00" fill="#b2b2b2" stroke="#555" stroke-width="0.4" />
<polygon points="256.00,252.00 273.30,241.30 273.60,243.50 256.30,254.20" fill="#6a6a6a" stroke="none" stroke-width="0" />
<polygon points="218.50,229.00 218.50,225.00 228.00,231.50 238.50,226.50 238.50,230.50 228.00,236.50" fill="#4a4a4a" stroke="#2e2e2e" stroke-width="0.4" />
<polygon points="219.50,211.00 238.00,204.00 238.30,227.50 229.00,232.30 219.50,226.50" fill="url(#cylG)" stroke="#2e2e2e" stroke-width="0.5" />
<polygon points="218.70,211.30 221.00,207.00 225.30,204.30 238.00,199.00 243.00,198.30 248.00,200.00 248.50,203.50 245.00,206.50 238.50,209.00 229.00,214.80 221.00,214.00" fill="#8b8b8b" stroke="#2e2e2e" stroke-width="0.5" />
<polygon points="224.50,205.50 237.00,200.20 241.00,201.50 228.50,207.20" fill="#bdbdbd" stroke="none" stroke-width="0" />
<polygon points="238.50,199.00 243.00,198.30 248.00,200.00 248.50,203.50 245.00,206.50 241.00,205.50" fill="#a5a5a5" stroke="#2e2e2e" stroke-width="0.4" />
<polygon points="221.00,214.00 229.00,214.80 238.50,209.00 238.40,212.00 229.00,217.60 221.00,216.60" fill="#5c5c5c" stroke="none" stroke-width="0" />
<polygon points="232.50,241.00 232.50,237.50 249.00,246.50 265.50,238.50 265.50,242.00 249.00,250.20" fill="#444" stroke="#2e2e2e" stroke-width="0.4" />
<polygon points="232.50,237.50 249.00,229.00 265.50,238.50 249.00,246.50" fill="#757575" stroke="#2e2e2e" stroke-width="0.4" />
<circle cx="236.30" cy="238.20" r="0.90" fill="#333" stroke="#1c1c1c" stroke-width="0"/>
<circle cx="249.00" cy="244.30" r="0.90" fill="#333" stroke="#1c1c1c" stroke-width="0"/>
<circle cx="262.00" cy="239.00" r="0.90" fill="#333" stroke="#1c1c1c" stroke-width="0"/>
<path d="M237,215 L237,238.5 Q249,247 262.6,238.5 L262.6,215 Z" fill="url(#cylG)" stroke="#2e2e2e" stroke-width="0.5" />
<polygon points="262.70,219.00 268.00,213.00 274.00,209.50 276.50,214.00 273.00,220.00 266.00,224.50 262.70,226.50" fill="#6a6a6a" stroke="#2e2e2e" stroke-width="0.4" />
<circle cx="270.30" cy="215.50" r="1.30" fill="#9a9a9a" stroke="#1c1c1c" stroke-width="0"/>
<polygon points="237.00,215.00 238.50,208.70 246.70,204.30 268.00,194.70 273.30,192.00 276.50,195.50 279.00,202.00 279.50,212.00 277.00,219.50 272.00,219.00 266.00,217.50 262.70,221.00 252.00,225.80 241.00,223.00" fill="url(#elbG)" stroke="#2e2e2e" stroke-width="0.5" />
<polygon points="240.50,209.30 248.00,204.80 268.00,195.50 272.50,194.30 262.00,201.50 252.00,210.50 243.50,212.60" fill="#c0c0c0" stroke="none" stroke-width="0" />
<path d="M262.7,221 Q262,212 270,206.5" fill="none" stroke="#444" stroke-width="0.5" />
<polygon points="273.30,192.00 276.50,190.80 282.50,192.50 287.00,198.50 288.80,206.50 288.30,214.00 285.50,218.80 281.00,220.20 277.00,219.50 279.50,212.00 279.00,202.00 276.50,195.50" fill="#3a3a3a" stroke="#2e2e2e" stroke-width="0.4" />
<line x1="278.30" y1="198.80" x2="284.40" y2="197.30" stroke="#5c5c5c" stroke-width="0.7" />
<line x1="278.40" y1="202.40" x2="284.40" y2="201.20" stroke="#5c5c5c" stroke-width="0.7" />
<line x1="278.50" y1="206.00" x2="284.40" y2="205.10" stroke="#5c5c5c" stroke-width="0.7" />
<line x1="278.60" y1="209.60" x2="284.40" y2="209.00" stroke="#5c5c5c" stroke-width="0.7" />
<line x1="278.70" y1="213.20" x2="284.40" y2="212.90" stroke="#5c5c5c" stroke-width="0.7" />
<line x1="278.80" y1="216.80" x2="284.40" y2="216.80" stroke="#5c5c5c" stroke-width="0.7" />
<polygon points="282.50,192.50 287.00,198.50 288.80,206.50 288.30,214.00 285.50,218.80 286.60,212.00 286.20,203.50 284.30,197.00" fill="#585858" stroke="none" stroke-width="0" />
<path d="M281,193.2 Q284.8,199 284.8,207 Q284.6,215 282.2,219.6" fill="none" stroke="#222" stroke-width="0.7" />
<circle cx="243.40" cy="212.60" r="1.30" fill="#555" stroke="#1c1c1c" stroke-width="0"/>
<circle cx="249.40" cy="208.80" r="1.20" fill="#555" stroke="#1c1c1c" stroke-width="0"/>
<path d="M159.3,255.5 L159.3,243 Q159.3,236.8 162.5,236.8 Q165.8,236.8 165.8,243 L165.8,255.5 Z" fill="#5f5f5f" stroke="#1c1c1c" stroke-width="0" />
<path d="M161.2,253 L161.2,243.5 Q161.2,239.5 162.6,239.5 Q163.8,239.5 163.8,243.5 L163.8,253 Z" fill="#9a9a9a" stroke="#1c1c1c" stroke-width="0" />
<ellipse cx="162.80" cy="258.00" rx="5.20" ry="3.20" fill="#585858" stroke="none" stroke-width="0"/>
<ellipse cx="162.80" cy="257.20" rx="3.40" ry="2.00" fill="#7a7a7a" stroke="none" stroke-width="0"/>
<polygon points="54.00,306.00 70.00,296.00 75.00,299.00 131.00,330.00 145.30,354.00 148.00,370.00 148.00,428.70 131.00,439.30 113.00,449.00 100.00,430.00 60.00,330.00" fill="#3d3d3d" stroke="none" stroke-width="0" />
<polygon points="131.00,330.00 145.30,354.00 148.00,370.00 148.00,428.70 131.00,439.30 121.00,444.00 116.00,380.00 112.00,345.00" fill="#464646" stroke="none" stroke-width="0" />
<polygon points="75.00,299.00 131.00,330.00 112.00,345.00 60.00,316.00" fill="#434343" stroke="none" stroke-width="0" />
<polygon points="54.00,306.00 70.00,296.00 74.70,299.30 74.70,311.50 58.70,320.00 54.00,316.70" fill="#393939" stroke="none" stroke-width="0" />
<polygon points="54.00,306.00 70.00,296.00 74.70,299.30 58.70,309.30" fill="#4c4c4c" stroke="none" stroke-width="0" />
<path d="M74.7,299.3 L131,330 L145.3,354 L148,370 V428.7" fill="none" stroke="#5e5e5e" stroke-width="0.5" />
<path d="M131,330 L125,336 M145.3,354 L139,358" fill="none" stroke="#2c2c2c" stroke-width="0.4" />
<polygon points="31.00,320.00 33.30,314.70 41.30,311.30 46.70,313.00 52.70,318.70 52.00,325.00 56.70,328.50 94.70,347.30 100.00,345.80 112.00,352.70 119.50,362.00 121.50,368.00 121.50,442.00 119.00,446.00 113.30,449.00 108.00,449.00 97.30,446.00 94.70,440.00 60.00,425.00 31.00,386.00" fill="#3a3a3a" stroke="none" stroke-width="0" />
<path d="M31,384 V320 L33.3,314.7 L41.3,311.3 L46.7,313 L52.7,318.7 L52,325 L56.7,328.5 L94.7,347.3 L100,345.8 L112,352.7 L119.5,362 L121.5,368 V442" fill="none" stroke="#575757" stroke-width="0.5" />
<path d="M121.5,442 L119,446 L113.3,449 L108,449 L97.3,446 L94.7,440" fill="none" stroke="#505050" stroke-width="0.5" />
<polygon points="119.50,362.00 121.50,368.00 121.50,384.00 117.50,381.00 116.00,366.00" fill="#4a4a4a" stroke="none" stroke-width="0" />
<polygon points="121.50,426.00 121.50,442.00 119.00,446.00 115.50,445.00 117.00,428.00" fill="#4a4a4a" stroke="none" stroke-width="0" />
<ellipse cx="72.50" cy="383.00" rx="34.00" ry="58.50" fill="#414141" stroke="none" stroke-width="0" transform="rotate(-29.25 72.50 383.00)"/>
<ellipse cx="72.50" cy="383.00" rx="33.40" ry="57.60" fill="none" stroke="#272727" stroke-width="0.8" transform="rotate(-29.25 72.50 383.00)"/>
<ellipse cx="71.60" cy="383.50" rx="31.00" ry="54.00" fill="url(#diskG)" stroke="none" stroke-width="0" transform="rotate(-29.25 71.60 383.50)"/>
<ellipse cx="71.60" cy="383.50" rx="30.80" ry="53.60" fill="none" stroke="#585858" stroke-width="0.6" transform="rotate(-29.25 71.60 383.50)"/>
<ellipse cx="74.30" cy="382.30" rx="14.20" ry="24.20" fill="#2e2e2e" stroke="none" stroke-width="0" transform="rotate(-29.25 74.30 382.30)"/>
<ellipse cx="74.30" cy="382.30" rx="14.20" ry="24.20" fill="none" stroke="#505050" stroke-width="0.5" transform="rotate(-29.25 74.30 382.30)"/>
<ellipse cx="74.60" cy="382.10" rx="11.30" ry="19.40" fill="#3a3a3a" stroke="none" stroke-width="0" transform="rotate(-29.25 74.60 382.10)"/>
<ellipse cx="75.00" cy="381.90" rx="9.60" ry="16.60" fill="#242424" stroke="none" stroke-width="0" transform="rotate(-29.25 75.00 381.90)"/>
<ellipse cx="75.00" cy="381.90" rx="9.60" ry="16.60" fill="none" stroke="#4a4a4a" stroke-width="0.7" transform="rotate(-29.25 75.00 381.90)"/>
<polygon points="30.80,393.20 72.30,370.00 85.10,391.30 43.40,414.70" fill="url(#shaftG)" stroke="none" stroke-width="0" />
<ellipse cx="78.70" cy="380.50" rx="7.30" ry="12.60" fill="#2f2f2f" stroke="none" stroke-width="0" transform="rotate(-29.25 78.70 380.50)"/>
<polygon points="32.20,392.60 73.00,369.80 75.50,372.50 34.20,395.60" fill="#7e7e7e" stroke="none" stroke-width="0" />
<polygon points="34.20,395.60 75.50,372.50 76.50,373.90 35.00,397.20" fill="#6c6c6c" stroke="none" stroke-width="0" />
<polygon points="42.50,390.60 66.00,377.40 68.20,379.60 44.60,392.90" fill="#8a8a8a" stroke="none" stroke-width="0" />
<polygon points="43.30,392.20 67.00,378.90 68.20,379.60 44.60,392.90" fill="#3a3a3a" stroke="none" stroke-width="0" />
<ellipse cx="37.00" cy="403.40" rx="7.50" ry="13.00" fill="#525252" stroke="none" stroke-width="0" transform="rotate(-29.25 37.00 403.40)"/>
<ellipse cx="37.00" cy="403.40" rx="7.50" ry="13.00" fill="none" stroke="#2a2a2a" stroke-width="0.5" transform="rotate(-29.25 37.00 403.40)"/>
<ellipse cx="36.40" cy="403.80" rx="4.30" ry="7.40" fill="#707070" stroke="none" stroke-width="0" transform="rotate(-29.25 36.40 403.80)"/>
<ellipse cx="36.10" cy="404.00" rx="2.80" ry="4.80" fill="#4a4a4a" stroke="none" stroke-width="0" transform="rotate(-29.25 36.10 404.00)"/>
<ellipse cx="36.00" cy="404.10" rx="1.50" ry="2.60" fill="#2e2e2e" stroke="none" stroke-width="0" transform="rotate(-29.25 36.00 404.10)"/>
<ellipse cx="40.20" cy="325.80" rx="2.90" ry="4.00" fill="#2c2c2c" stroke="none" stroke-width="0" transform="rotate(-29.25 40.20 325.80)"/>
<ellipse cx="40.50" cy="325.90" rx="2.20" ry="3.20" fill="#8c8c8c" stroke="none" stroke-width="0" transform="rotate(-29.25 40.50 325.90)"/>
<ellipse cx="41.10" cy="326.10" rx="1.40" ry="2.40" fill="#b4b4b4" stroke="none" stroke-width="0" transform="rotate(-29.25 41.10 326.10)"/>
<ellipse cx="106.40" cy="441.00" rx="2.90" ry="4.00" fill="#2c2c2c" stroke="none" stroke-width="0" transform="rotate(-29.25 106.40 441.00)"/>
<ellipse cx="106.70" cy="441.10" rx="2.20" ry="3.20" fill="#8c8c8c" stroke="none" stroke-width="0" transform="rotate(-29.25 106.70 441.10)"/>
<ellipse cx="107.30" cy="441.30" rx="1.40" ry="2.40" fill="#b4b4b4" stroke="none" stroke-width="0" transform="rotate(-29.25 107.30 441.30)"/>
<ellipse cx="105.80" cy="364.20" rx="2.90" ry="4.00" fill="#2c2c2c" stroke="none" stroke-width="0" transform="rotate(-29.25 105.80 364.20)"/>
<ellipse cx="106.10" cy="364.30" rx="2.20" ry="3.20" fill="#8c8c8c" stroke="none" stroke-width="0" transform="rotate(-29.25 106.10 364.30)"/>
<ellipse cx="106.70" cy="364.50" rx="1.40" ry="2.40" fill="#b4b4b4" stroke="none" stroke-width="0" transform="rotate(-29.25 106.70 364.50)"/>
<polygon points="52.00,321.50 56.00,320.00 56.20,326.50 52.80,328.00" fill="#9a9a9a" stroke="none" stroke-width="0" />
<polygon points="93.50,347.00 97.50,349.20 96.50,354.00 93.00,352.00" fill="#8a8a8a" stroke="none" stroke-width="0" />
<polygon points="111.50,383.00 118.00,379.00 121.00,381.50 114.50,386.00" fill="#6e6e6e" stroke="none" stroke-width="0" />
<polygon points="111.50,430.00 118.00,426.00 121.00,428.50 114.50,433.00" fill="#6e6e6e" stroke="none" stroke-width="0" />
<polygon points="29.50,338.00 33.00,340.00 33.00,347.00 29.50,345.00" fill="#4c4c4c" stroke="none" stroke-width="0" />
<circle cx="76.50" cy="311.70" r="1.70" fill="#9a9a9a" stroke="#1c1c1c" stroke-width="0"/>
<circle cx="117.30" cy="336.30" r="1.70" fill="#8e8e8e" stroke="#1c1c1c" stroke-width="0"/>
<circle cx="137.00" cy="417.50" r="1.50" fill="#808080" stroke="#1c1c1c" stroke-width="0"/>
<circle cx="136.80" cy="346.50" r="1.40" fill="#777" stroke="#1c1c1c" stroke-width="0"/>
<path d="M118.5,336 l4,-1.6 M137.5,416 l-5,4.5" fill="none" stroke="#222" stroke-width="0.6" />
<ellipse cx="93.00" cy="328.30" rx="6.60" ry="10.00" fill="#666" stroke="none" stroke-width="0" transform="rotate(20 93.00 328.30)"/>
<ellipse cx="93.00" cy="328.30" rx="6.60" ry="10.00" fill="none" stroke="#2a2a2a" stroke-width="0.5" transform="rotate(20 93.00 328.30)"/>
<ellipse cx="93.50" cy="327.20" rx="3.20" ry="5.90" fill="#373737" stroke="none" stroke-width="0" transform="rotate(20 93.50 327.20)"/>
<path d="M87.8,330.5 Q88.5,321 95,319" fill="none" stroke="#9a9a9a" stroke-width="1.5" />
<ellipse cx="95.30" cy="336.40" rx="3.30" ry="2.50" fill="#b4b4b4" stroke="none" stroke-width="0"/>
<ellipse cx="94.30" cy="340.20" rx="5.20" ry="2.90" fill="#555" stroke="none" stroke-width="0"/>
<ellipse cx="94.30" cy="340.20" rx="5.20" ry="2.90" fill="none" stroke="#2a2a2a" stroke-width="0.4"/>
</g>
<g id="motor2">
<g transform="translate(285,8.5)">
<polygon points="65.55,298.61 72.15,302.24 207.60,226.43 201.00,222.80" fill="#6c6c6c" stroke="none" stroke-width="0" />
<polygon points="66.70,299.24 68.42,300.19 203.87,224.38 202.15,223.43" fill="#a2a2a2" stroke="none" stroke-width="0" />
<polygon points="69.86,300.98 71.29,301.77 206.74,225.96 205.31,225.17" fill="#9a9a9a" stroke="none" stroke-width="0" />
<polygon points="72.15,302.24 80.19,306.67 215.64,230.86 207.60,226.43" fill="#c3c3c3" stroke="none" stroke-width="0" />
<polygon points="80.19,306.67 110.90,323.57 246.35,247.76 215.64,230.86" fill="url(#ribT)" stroke="none" stroke-width="0" />
<polygon points="110.90,323.57 122.95,330.21 258.40,254.40 246.35,247.76" fill="#c6c6c6" stroke="none" stroke-width="0" />
<polygon points="122.95,330.21 140.55,358.11 276.00,282.30 258.40,254.40" fill="#6b6b6b" stroke="none" stroke-width="0" />
<polygon points="122.95,330.21 124.01,331.88 259.46,256.07 258.40,254.40" fill="#555" stroke="none" stroke-width="0" />
<polygon points="138.02,340.27 140.49,344.18 267.55,273.06 265.09,269.15" fill="#a4a4a4" stroke="none" stroke-width="0" />
<polygon points="135.09,349.46 140.55,358.11 276.00,282.30 270.54,273.65" fill="#cacaca" stroke="none" stroke-width="0" />
<polygon points="140.55,358.11 140.55,429.11 276.00,353.30 276.00,282.30" fill="#6d6d6d" stroke="none" stroke-width="0" />
<polygon points="140.55,358.11 140.55,360.24 276.00,284.43 276.00,282.30" fill="#505050" stroke="none" stroke-width="0" />
<polygon points="140.55,373.38 140.55,410.30 276.00,334.49 276.00,297.56" fill="url(#ribS)" stroke="none" stroke-width="0" />
<polygon points="140.55,420.24 140.55,429.11 276.00,353.30 276.00,344.43" fill="#9b9b9b" stroke="none" stroke-width="0" />
<polygon points="140.55,424.14 140.55,425.92 276.00,350.11 276.00,348.33" fill="#5a5a5a" stroke="none" stroke-width="0" />
</g>
<polygon points="401.70,286.80 497.00,232.20 500.60,239.60 401.70,295.00" fill="url(#ribT)" stroke="none" stroke-width="0" />
<polygon points="471.70,325.00 591.70,255.30 591.70,364.50 471.70,433.30" fill="url(#boxS)" stroke="none" stroke-width="0" />
<polygon points="591.70,255.30 625.80,236.90 625.80,328.00 600.00,343.00 600.00,360.00 591.70,364.50" fill="#686868" stroke="none" stroke-width="0" />
<polygon points="456.70,425.00 471.70,433.30 471.70,424.00 463.00,419.00" fill="#8c8c8c" stroke="none" stroke-width="0" />
<polygon points="378.30,271.70 532.50,183.30 625.80,236.70 471.70,325.00 450.00,312.60 559.00,250.20 510.70,222.60 401.70,285.10" fill="url(#boxT)" stroke="none" stroke-width="0" />
<polygon points="378.30,271.70 401.70,285.10 401.70,291.50 394.00,294.00 378.30,285.50" fill="#787878" stroke="none" stroke-width="0" />
<polygon points="450.30,312.80 471.50,324.80 471.50,330.50 459.00,323.00 450.30,316.20" fill="#505050" stroke="none" stroke-width="0" />
<path d="M471.7,325 L625.8,236.7" fill="none" stroke="#444" stroke-width="0.5" />
<path d="M401.7,285.1 L510.7,222.6 L559,250.2 L450,312.6" fill="none" stroke="#333" stroke-width="0.5" />
<path d="M471.7,325 V433.3" fill="none" stroke="#3a3a3a" stroke-width="0.6" />
<path d="M591.7,255.3 V364" fill="none" stroke="#3e3e3e" stroke-width="0.6" />
<path d="M576.7,226.7 V265" fill="none" stroke="#444" stroke-width="0.5" />
<polygon points="540.80,261.00 545.50,258.50 547.80,260.00 543.00,262.80" fill="#333" stroke="none" stroke-width="0" />
<polygon points="484.00,231.20 488.50,228.60 493.00,231.00 491.00,232.20 488.50,230.80 485.80,232.30" fill="#444" stroke="none" stroke-width="0" />
<polygon points="500.00,203.30 532.50,183.30 576.00,208.50 545.00,228.00" fill="#bdbdbd" stroke="none" stroke-width="0" opacity="0.6"/>
<ellipse cx="538.00" cy="203.00" rx="17.00" ry="11.00" fill="url(#topHL)" stroke="none" stroke-width="0" transform="rotate(30 538.00 203.00)"/>
<path d="M500,203.3 L545,228.5 M500,203.3 L506,206.7" fill="none" stroke="#555" stroke-width="0.4" />
<path d="M573,268 Q583,264 588.5,272 Q590,283 584,292 Q582,305 586.5,314 Q587,326 578,332 Q566,337.5 556,332 Q546.5,324 549,312 Q555,300 552,290 Q551,283 558,281.5 Q568,281 569,274 Z" fill="#6e6e6e" stroke="#2a2a2a" stroke-width="0.6" />
<clipPath id="winclip"><path d="M573,268 Q583,264 588.5,272 Q590,283 584,292 Q582,305 586.5,314 Q587,326 578,332 Q566,337.5 556,332 Q546.5,324 549,312 Q555,300 552,290 Q551,283 558,281.5 Q568,281 569,274 Z"/></clipPath>
<g clip-path="url(#winclip)">
<polygon points="570.00,266.00 580.00,264.00 590.00,272.00 588.00,290.00 577.00,284.00 572.00,290.00" fill="#6a6a6a" stroke="none" stroke-width="0" />
<polygon points="572.00,275.00 579.00,268.00 582.00,290.00 575.00,296.00" fill="#555" stroke="none" stroke-width="0" />
<polygon points="548.00,290.00 562.00,286.00 562.00,300.00 548.00,304.00" fill="#d0d0d0" stroke="none" stroke-width="0" />
<polygon points="548.00,296.00 562.00,292.00 562.00,296.00 548.00,300.00" fill="#8a8a8a" stroke="none" stroke-width="0" />
<polygon points="548.00,313.00 561.00,309.00 561.00,338.00 548.00,334.00" fill="#b8b8b8" stroke="none" stroke-width="0" />
<line x1="548.00" y1="315.00" x2="561.00" y2="311.00" stroke="#606060" stroke-width="0.9" />
<line x1="548.00" y1="318.00" x2="561.00" y2="314.00" stroke="#606060" stroke-width="0.9" />
<line x1="548.00" y1="321.00" x2="561.00" y2="317.00" stroke="#606060" stroke-width="0.9" />
<line x1="548.00" y1="324.00" x2="561.00" y2="320.00" stroke="#606060" stroke-width="0.9" />
<line x1="548.00" y1="327.00" x2="561.00" y2="323.00" stroke="#606060" stroke-width="0.9" />
<line x1="548.00" y1="330.00" x2="561.00" y2="326.00" stroke="#606060" stroke-width="0.9" />
<line x1="548.00" y1="333.00" x2="561.00" y2="329.00" stroke="#606060" stroke-width="0.9" />
<line x1="548.00" y1="336.00" x2="561.00" y2="332.00" stroke="#606060" stroke-width="0.9" />
<polygon points="575.00,303.00 590.00,297.00 590.00,335.00 575.00,335.00" fill="#e6e6e6" stroke="none" stroke-width="0" />
<polygon points="575.00,300.00 588.00,294.00 588.00,312.00 582.00,316.00 575.00,314.00" fill="#8c8c8c" stroke="none" stroke-width="0" />
<polygon points="576.00,316.00 585.00,310.00 587.00,318.00 578.00,326.00" fill="#7a7a7a" stroke="none" stroke-width="0" />
<polygon points="559.00,286.00 570.00,283.00 575.00,279.00 575.00,333.00 561.00,338.00 561.00,292.00" fill="#3e3e3e" stroke="none" stroke-width="0" />
<polygon points="559.00,286.00 570.00,283.00 575.00,279.00 575.00,283.00 561.00,290.00" fill="#5a5a5a" stroke="none" stroke-width="0" />
</g>
<circle cx="549.20" cy="305.00" r="1.50" fill="#303030" stroke="#1c1c1c" stroke-width="0"/>
<circle cx="594.20" cy="313.30" r="1.50" fill="#303030" stroke="#1c1c1c" stroke-width="0"/>
<circle cx="549.20" cy="365.80" r="1.50" fill="#303030" stroke="#1c1c1c" stroke-width="0"/>
<circle cx="474.70" cy="347.50" r="1.50" fill="#303030" stroke="#1c1c1c" stroke-width="0"/>
<circle cx="474.70" cy="408.30" r="1.50" fill="#303030" stroke="#1c1c1c" stroke-width="0"/>
<circle cx="457.50" cy="310.00" r="1.50" fill="#303030" stroke="#1c1c1c" stroke-width="0"/>
<circle cx="404.80" cy="279.50" r="1.50" fill="#303030" stroke="#1c1c1c" stroke-width="0"/>
<circle cx="609.00" cy="319.00" r="1.50" fill="#303030" stroke="#1c1c1c" stroke-width="0"/>
<circle cx="621.50" cy="315.00" r="1.50" fill="#303030" stroke="#1c1c1c" stroke-width="0"/>
<polygon points="596.50,334.50 620.80,320.50 630.50,327.00 630.50,341.00 607.00,355.50 596.50,349.00" fill="#242424" stroke="none" stroke-width="0" />
<polygon points="596.50,334.50 620.80,320.50 630.50,327.00 606.50,341.50" fill="#3a3a3a" stroke="none" stroke-width="0" />
<polygon points="598.00,336.50 620.00,323.50 622.00,325.00 600.00,338.00" fill="#555" stroke="none" stroke-width="0" />
<polygon points="611.00,345.00 617.00,341.50 618.00,348.00 612.00,351.50" fill="#6a6a6a" stroke="none" stroke-width="0" />
<polygon points="602.00,341.00 606.00,343.50 606.00,353.00 602.00,350.50" fill="#4a4a4a" stroke="none" stroke-width="0" />
<polygon points="562.00,361.00 590.00,345.50 600.00,347.00 600.00,360.00 572.00,375.00" fill="#8a8a8a" stroke="none" stroke-width="0" />
<polygon points="584.00,349.00 600.00,341.00 603.00,352.00 588.00,361.00" fill="#4a4a4a" stroke="none" stroke-width="0" />
<ellipse cx="565.00" cy="367.00" rx="4.20" ry="5.60" fill="#b5b5b5" stroke="none" stroke-width="0" transform="rotate(-29 565.00 367.00)"/>
<ellipse cx="565.00" cy="367.00" rx="2.40" ry="3.40" fill="#777" stroke="none" stroke-width="0" transform="rotate(-29 565.00 367.00)"/>
<g transform="translate(285,8.5)">
<polygon points="206.70,226.70 224.50,216.60 273.30,241.30 256.00,252.00" fill="#b2b2b2" stroke="#555" stroke-width="0.4" />
<polygon points="256.00,252.00 273.30,241.30 273.60,243.50 256.30,254.20" fill="#6a6a6a" stroke="none" stroke-width="0" />
<polygon points="218.50,229.00 218.50,225.00 228.00,231.50 238.50,226.50 238.50,230.50 228.00,236.50" fill="#4a4a4a" stroke="#2e2e2e" stroke-width="0.4" />
<polygon points="219.50,211.00 238.00,204.00 238.30,227.50 229.00,232.30 219.50,226.50" fill="url(#cylG)" stroke="#2e2e2e" stroke-width="0.5" />
<polygon points="218.70,211.30 221.00,207.00 225.30,204.30 238.00,199.00 243.00,198.30 248.00,200.00 248.50,203.50 245.00,206.50 238.50,209.00 229.00,214.80 221.00,214.00" fill="#8b8b8b" stroke="#2e2e2e" stroke-width="0.5" />
<polygon points="224.50,205.50 237.00,200.20 241.00,201.50 228.50,207.20" fill="#bdbdbd" stroke="none" stroke-width="0" />
<polygon points="238.50,199.00 243.00,198.30 248.00,200.00 248.50,203.50 245.00,206.50 241.00,205.50" fill="#a5a5a5" stroke="#2e2e2e" stroke-width="0.4" />
<polygon points="221.00,214.00 229.00,214.80 238.50,209.00 238.40,212.00 229.00,217.60 221.00,216.60" fill="#5c5c5c" stroke="none" stroke-width="0" />
<polygon points="232.50,241.00 232.50,237.50 249.00,246.50 265.50,238.50 265.50,242.00 249.00,250.20" fill="#444" stroke="#2e2e2e" stroke-width="0.4" />
<polygon points="232.50,237.50 249.00,229.00 265.50,238.50 249.00,246.50" fill="#757575" stroke="#2e2e2e" stroke-width="0.4" />
<circle cx="236.30" cy="238.20" r="0.90" fill="#333" stroke="#1c1c1c" stroke-width="0"/>
<circle cx="249.00" cy="244.30" r="0.90" fill="#333" stroke="#1c1c1c" stroke-width="0"/>
<circle cx="262.00" cy="239.00" r="0.90" fill="#333" stroke="#1c1c1c" stroke-width="0"/>
<path d="M237,215 L237,238.5 Q249,247 262.6,238.5 L262.6,215 Z" fill="url(#cylG)" stroke="#2e2e2e" stroke-width="0.5" />
<polygon points="262.70,219.00 268.00,213.00 274.00,209.50 276.50,214.00 273.00,220.00 266.00,224.50 262.70,226.50" fill="#6a6a6a" stroke="#2e2e2e" stroke-width="0.4" />
<circle cx="270.30" cy="215.50" r="1.30" fill="#9a9a9a" stroke="#1c1c1c" stroke-width="0"/>
<polygon points="237.00,215.00 238.50,208.70 246.70,204.30 268.00,194.70 273.30,192.00 276.50,195.50 279.00,202.00 279.50,212.00 277.00,219.50 272.00,219.00 266.00,217.50 262.70,221.00 252.00,225.80 241.00,223.00" fill="url(#elbG)" stroke="#2e2e2e" stroke-width="0.5" />
<polygon points="240.50,209.30 248.00,204.80 268.00,195.50 272.50,194.30 262.00,201.50 252.00,210.50 243.50,212.60" fill="#c0c0c0" stroke="none" stroke-width="0" />
<path d="M262.7,221 Q262,212 270,206.5" fill="none" stroke="#444" stroke-width="0.5" />
<polygon points="273.30,192.00 276.50,190.80 282.50,192.50 287.00,198.50 288.80,206.50 288.30,214.00 285.50,218.80 281.00,220.20 277.00,219.50 279.50,212.00 279.00,202.00 276.50,195.50" fill="#3a3a3a" stroke="#2e2e2e" stroke-width="0.4" />
<line x1="278.30" y1="198.80" x2="284.40" y2="197.30" stroke="#5c5c5c" stroke-width="0.7" />
<line x1="278.40" y1="202.40" x2="284.40" y2="201.20" stroke="#5c5c5c" stroke-width="0.7" />
<line x1="278.50" y1="206.00" x2="284.40" y2="205.10" stroke="#5c5c5c" stroke-width="0.7" />
<line x1="278.60" y1="209.60" x2="284.40" y2="209.00" stroke="#5c5c5c" stroke-width="0.7" />
<line x1="278.70" y1="213.20" x2="284.40" y2="212.90" stroke="#5c5c5c" stroke-width="0.7" />
<line x1="278.80" y1="216.80" x2="284.40" y2="216.80" stroke="#5c5c5c" stroke-width="0.7" />
<polygon points="282.50,192.50 287.00,198.50 288.80,206.50 288.30,214.00 285.50,218.80 286.60,212.00 286.20,203.50 284.30,197.00" fill="#585858" stroke="none" stroke-width="0" />
<path d="M281,193.2 Q284.8,199 284.8,207 Q284.6,215 282.2,219.6" fill="none" stroke="#222" stroke-width="0.7" />
<circle cx="243.40" cy="212.60" r="1.30" fill="#555" stroke="#1c1c1c" stroke-width="0"/>
<circle cx="249.40" cy="208.80" r="1.20" fill="#555" stroke="#1c1c1c" stroke-width="0"/>
</g>
<ellipse cx="446.00" cy="258.50" rx="8.80" ry="11.20" fill="#6a6a6a" stroke="none" stroke-width="0" transform="rotate(-35 446.00 258.50)"/>
<ellipse cx="446.40" cy="257.80" rx="4.60" ry="6.60" fill="#b4b4b4" stroke="none" stroke-width="0" transform="rotate(-35 446.40 257.80)"/>
<path d="M438.5,262 Q440,251 449,248.6" fill="none" stroke="#9a9a9a" stroke-width="1.4" />
<g transform="translate(285,8.5)">
<polygon points="54.00,306.00 70.00,296.00 75.00,299.00 131.00,330.00 145.30,354.00 148.00,370.00 148.00,428.70 131.00,439.30 113.00,449.00 100.00,430.00 60.00,330.00" fill="#3d3d3d" stroke="none" stroke-width="0" />
<polygon points="131.00,330.00 145.30,354.00 148.00,370.00 148.00,428.70 131.00,439.30 121.00,444.00 116.00,380.00 112.00,345.00" fill="#464646" stroke="none" stroke-width="0" />
<polygon points="75.00,299.00 131.00,330.00 112.00,345.00 60.00,316.00" fill="#434343" stroke="none" stroke-width="0" />
<polygon points="54.00,306.00 70.00,296.00 74.70,299.30 74.70,311.50 58.70,320.00 54.00,316.70" fill="#393939" stroke="none" stroke-width="0" />
<polygon points="54.00,306.00 70.00,296.00 74.70,299.30 58.70,309.30" fill="#4c4c4c" stroke="none" stroke-width="0" />
<path d="M74.7,299.3 L131,330 L145.3,354 L148,370 V428.7" fill="none" stroke="#5e5e5e" stroke-width="0.5" />
<path d="M131,330 L125,336 M145.3,354 L139,358" fill="none" stroke="#2c2c2c" stroke-width="0.4" />
<polygon points="31.00,320.00 33.30,314.70 41.30,311.30 46.70,313.00 52.70,318.70 52.00,325.00 56.70,328.50 94.70,347.30 100.00,345.80 112.00,352.70 119.50,362.00 121.50,368.00 121.50,442.00 119.00,446.00 113.30,449.00 108.00,449.00 97.30,446.00 94.70,440.00 60.00,425.00 31.00,386.00" fill="#3a3a3a" stroke="none" stroke-width="0" />
<path d="M31,384 V320 L33.3,314.7 L41.3,311.3 L46.7,313 L52.7,318.7 L52,325 L56.7,328.5 L94.7,347.3 L100,345.8 L112,352.7 L119.5,362 L121.5,368 V442" fill="none" stroke="#575757" stroke-width="0.5" />
<path d="M121.5,442 L119,446 L113.3,449 L108,449 L97.3,446 L94.7,440" fill="none" stroke="#505050" stroke-width="0.5" />
<polygon points="119.50,362.00 121.50,368.00 121.50,384.00 117.50,381.00 116.00,366.00" fill="#4a4a4a" stroke="none" stroke-width="0" />
<polygon points="121.50,426.00 121.50,442.00 119.00,446.00 115.50,445.00 117.00,428.00" fill="#4a4a4a" stroke="none" stroke-width="0" />
<ellipse cx="72.50" cy="383.00" rx="34.00" ry="58.50" fill="#414141" stroke="none" stroke-width="0" transform="rotate(-29.25 72.50 383.00)"/>
<ellipse cx="72.50" cy="383.00" rx="33.40" ry="57.60" fill="none" stroke="#272727" stroke-width="0.8" transform="rotate(-29.25 72.50 383.00)"/>
<ellipse cx="71.60" cy="383.50" rx="31.00" ry="54.00" fill="url(#diskG)" stroke="none" stroke-width="0" transform="rotate(-29.25 71.60 383.50)"/>
<ellipse cx="71.60" cy="383.50" rx="30.80" ry="53.60" fill="none" stroke="#585858" stroke-width="0.6" transform="rotate(-29.25 71.60 383.50)"/>
<ellipse cx="74.30" cy="382.30" rx="14.20" ry="24.20" fill="#2e2e2e" stroke="none" stroke-width="0" transform="rotate(-29.25 74.30 382.30)"/>
<ellipse cx="74.30" cy="382.30" rx="14.20" ry="24.20" fill="none" stroke="#505050" stroke-width="0.5" transform="rotate(-29.25 74.30 382.30)"/>
<ellipse cx="74.60" cy="382.10" rx="11.30" ry="19.40" fill="#3a3a3a" stroke="none" stroke-width="0" transform="rotate(-29.25 74.60 382.10)"/>
<ellipse cx="75.00" cy="381.90" rx="9.60" ry="16.60" fill="#242424" stroke="none" stroke-width="0" transform="rotate(-29.25 75.00 381.90)"/>
<ellipse cx="75.00" cy="381.90" rx="9.60" ry="16.60" fill="none" stroke="#4a4a4a" stroke-width="0.7" transform="rotate(-29.25 75.00 381.90)"/>
<polygon points="30.80,393.20 72.30,370.00 85.10,391.30 43.40,414.70" fill="url(#shaftG)" stroke="none" stroke-width="0" />
<ellipse cx="78.70" cy="380.50" rx="7.30" ry="12.60" fill="#2f2f2f" stroke="none" stroke-width="0" transform="rotate(-29.25 78.70 380.50)"/>
<polygon points="32.20,392.60 73.00,369.80 75.50,372.50 34.20,395.60" fill="#7e7e7e" stroke="none" stroke-width="0" />
<polygon points="34.20,395.60 75.50,372.50 76.50,373.90 35.00,397.20" fill="#6c6c6c" stroke="none" stroke-width="0" />
<polygon points="42.50,390.60 66.00,377.40 68.20,379.60 44.60,392.90" fill="#8a8a8a" stroke="none" stroke-width="0" />
<polygon points="43.30,392.20 67.00,378.90 68.20,379.60 44.60,392.90" fill="#3a3a3a" stroke="none" stroke-width="0" />
<ellipse cx="37.00" cy="403.40" rx="7.50" ry="13.00" fill="#525252" stroke="none" stroke-width="0" transform="rotate(-29.25 37.00 403.40)"/>
<ellipse cx="37.00" cy="403.40" rx="7.50" ry="13.00" fill="none" stroke="#2a2a2a" stroke-width="0.5" transform="rotate(-29.25 37.00 403.40)"/>
<ellipse cx="36.40" cy="403.80" rx="4.30" ry="7.40" fill="#707070" stroke="none" stroke-width="0" transform="rotate(-29.25 36.40 403.80)"/>
<ellipse cx="36.10" cy="404.00" rx="2.80" ry="4.80" fill="#4a4a4a" stroke="none" stroke-width="0" transform="rotate(-29.25 36.10 404.00)"/>
<ellipse cx="36.00" cy="404.10" rx="1.50" ry="2.60" fill="#2e2e2e" stroke="none" stroke-width="0" transform="rotate(-29.25 36.00 404.10)"/>
<ellipse cx="40.20" cy="325.80" rx="2.90" ry="4.00" fill="#2c2c2c" stroke="none" stroke-width="0" transform="rotate(-29.25 40.20 325.80)"/>
<ellipse cx="40.50" cy="325.90" rx="2.20" ry="3.20" fill="#8c8c8c" stroke="none" stroke-width="0" transform="rotate(-29.25 40.50 325.90)"/>
<ellipse cx="41.10" cy="326.10" rx="1.40" ry="2.40" fill="#b4b4b4" stroke="none" stroke-width="0" transform="rotate(-29.25 41.10 326.10)"/>
<ellipse cx="106.40" cy="441.00" rx="2.90" ry="4.00" fill="#2c2c2c" stroke="none" stroke-width="0" transform="rotate(-29.25 106.40 441.00)"/>
<ellipse cx="106.70" cy="441.10" rx="2.20" ry="3.20" fill="#8c8c8c" stroke="none" stroke-width="0" transform="rotate(-29.25 106.70 441.10)"/>
<ellipse cx="107.30" cy="441.30" rx="1.40" ry="2.40" fill="#b4b4b4" stroke="none" stroke-width="0" transform="rotate(-29.25 107.30 441.30)"/>
<ellipse cx="105.80" cy="364.20" rx="2.90" ry="4.00" fill="#2c2c2c" stroke="none" stroke-width="0" transform="rotate(-29.25 105.80 364.20)"/>
<ellipse cx="106.10" cy="364.30" rx="2.20" ry="3.20" fill="#8c8c8c" stroke="none" stroke-width="0" transform="rotate(-29.25 106.10 364.30)"/>
<ellipse cx="106.70" cy="364.50" rx="1.40" ry="2.40" fill="#b4b4b4" stroke="none" stroke-width="0" transform="rotate(-29.25 106.70 364.50)"/>
<polygon points="52.00,321.50 56.00,320.00 56.20,326.50 52.80,328.00" fill="#9a9a9a" stroke="none" stroke-width="0" />
<polygon points="93.50,347.00 97.50,349.20 96.50,354.00 93.00,352.00" fill="#8a8a8a" stroke="none" stroke-width="0" />
<polygon points="111.50,383.00 118.00,379.00 121.00,381.50 114.50,386.00" fill="#6e6e6e" stroke="none" stroke-width="0" />
<polygon points="111.50,430.00 118.00,426.00 121.00,428.50 114.50,433.00" fill="#6e6e6e" stroke="none" stroke-width="0" />
<polygon points="29.50,338.00 33.00,340.00 33.00,347.00 29.50,345.00" fill="#4c4c4c" stroke="none" stroke-width="0" />
<circle cx="76.50" cy="311.70" r="1.70" fill="#9a9a9a" stroke="#1c1c1c" stroke-width="0"/>
<circle cx="117.30" cy="336.30" r="1.70" fill="#8e8e8e" stroke="#1c1c1c" stroke-width="0"/>
<circle cx="137.00" cy="417.50" r="1.50" fill="#808080" stroke="#1c1c1c" stroke-width="0"/>
<circle cx="136.80" cy="346.50" r="1.40" fill="#777" stroke="#1c1c1c" stroke-width="0"/>
<path d="M118.5,336 l4,-1.6 M137.5,416 l-5,4.5" fill="none" stroke="#222" stroke-width="0.6" />
<ellipse cx="93.00" cy="328.30" rx="6.60" ry="10.00" fill="#666" stroke="none" stroke-width="0" transform="rotate(20 93.00 328.30)"/>
<ellipse cx="93.00" cy="328.30" rx="6.60" ry="10.00" fill="none" stroke="#2a2a2a" stroke-width="0.5" transform="rotate(20 93.00 328.30)"/>
<ellipse cx="93.50" cy="327.20" rx="3.20" ry="5.90" fill="#373737" stroke="none" stroke-width="0" transform="rotate(20 93.50 327.20)"/>
<path d="M87.8,330.5 Q88.5,321 95,319" fill="none" stroke="#9a9a9a" stroke-width="1.5" />
<ellipse cx="95.30" cy="336.40" rx="3.30" ry="2.50" fill="#b4b4b4" stroke="none" stroke-width="0"/>
<ellipse cx="94.30" cy="340.20" rx="5.20" ry="2.90" fill="#555" stroke="none" stroke-width="0"/>
<ellipse cx="94.30" cy="340.20" rx="5.20" ry="2.90" fill="none" stroke="#2a2a2a" stroke-width="0.4"/>
</g>
<line x1="532.50" y1="150.00" x2="532.50" y2="178.50" stroke="#333" stroke-width="0.5" />
<line x1="625.80" y1="202.50" x2="625.80" y2="233.50" stroke="#333" stroke-width="0.5" />
<line x1="532.50" y1="151.70" x2="625.80" y2="204.40" stroke="#333" stroke-width="0.5" />
<polygon points="532.50,151.70 541.02,154.91 539.65,157.35" fill="#333" stroke="none" stroke-width="0" />
<polygon points="625.80,204.40 617.28,201.19 618.65,198.75" fill="#333" stroke="none" stroke-width="0" />
<g transform="rotate(29.46 570 164.3)">
<rect x="570.00" y="161.60" width="5.40" height="6.20" rx="0" fill="none" stroke="#333" stroke-width="0.6"/>
<text x="576.30" y="167.90" font-size="8.6" text-anchor="start" font-style="italic" fill="#333">214</text>
</g>
<line x1="576.70" y1="226.70" x2="625.80" y2="205.00" stroke="#333" stroke-width="0.5" />
<polygon points="576.70,226.70 584.37,221.78 585.50,224.34" fill="#333" stroke="none" stroke-width="0" />
<polygon points="625.80,205.00 618.13,209.92 617.00,207.36" fill="#333" stroke="none" stroke-width="0" />
<text x="596.00" y="213.50" font-size="8.6" text-anchor="start" transform="rotate(-23.843280980397395 596.00 213.50)" font-style="italic" fill="#333">101</text>
</g>
</svg>
</body></html>
